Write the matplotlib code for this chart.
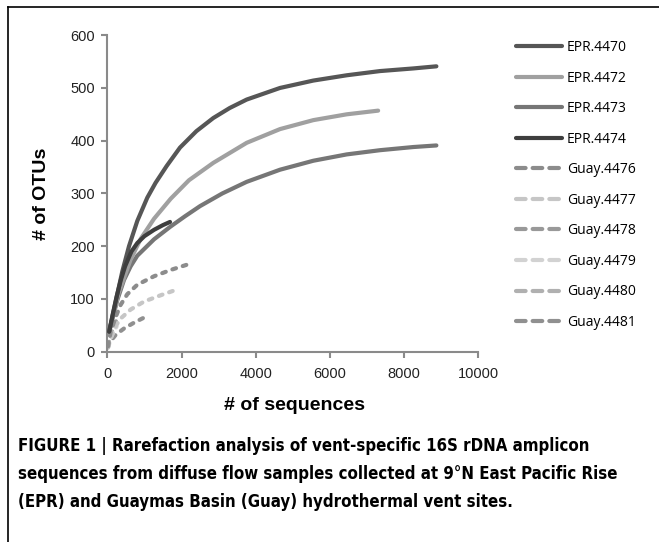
import matplotlib
matplotlib.use("Agg")
from matplotlib import pyplot as plt
from matplotlib.lines import Line2D

# rarefaction curves (sequences, OTUs)
epr4470_x = [50, 226, 404, 585, 809, 1078, 1300, 1600, 1960, 2400, 2857, 3300, 3757, 4655, 5553, 6452, 7350, 8248, 8870]
epr4470_y = [38, 95, 152, 200, 248, 292, 320, 352, 387, 418, 443, 462, 478, 500, 514, 524, 532, 537, 541]
epr4472_x = [50, 300, 630, 900, 1259, 1709, 2200, 2857, 3757, 4655, 5553, 6452, 7300]
epr4472_y = [38, 110, 175, 214, 252, 290, 325, 358, 396, 422, 439, 450, 457]
epr4473_x = [50, 270, 450, 630, 809, 1259, 1700, 2100, 2500, 3100, 3757, 4655, 5553, 6452, 7350, 8248, 8870]
epr4473_y = [38, 98, 136, 162, 182, 213, 237, 257, 276, 300, 322, 345, 362, 374, 382, 388, 391]
epr4474_x = [50, 150, 250, 361, 480, 650, 809, 1000, 1259, 1500, 1690]
epr4474_y = [38, 72, 104, 135, 162, 190, 206, 219, 231, 240, 246]

guay4476_x = [20, 92, 226, 361, 539, 809, 1259, 1709, 2150]
guay4476_y = [10, 38, 66, 89, 109, 127, 143, 155, 165]
guay4477_x = [20, 181, 361, 630, 989, 1439, 1800]
guay4477_y = [10, 44, 63, 80, 95, 107, 116]
guay4478_x = [20, 150, 300]
guay4478_y = [12, 45, 68]
guay4479_x = [20, 120, 250]
guay4479_y = [8, 30, 48]
guay4480_x = [20, 100, 200]
guay4480_y = [10, 32, 50]
guay4481_x = [20, 45, 226, 450, 720, 1000]
guay4481_y = [8, 16, 32, 44, 55, 65]

names = ["EPR.4470", "EPR.4472", "EPR.4473", "EPR.4474",
         "Guay.4476", "Guay.4477", "Guay.4478", "Guay.4479", "Guay.4480", "Guay.4481"]
xs = [epr4470_x, epr4472_x, epr4473_x, epr4474_x,
      guay4476_x, guay4477_x, guay4478_x, guay4479_x, guay4480_x, guay4481_x]
ys = [epr4470_y, epr4472_y, epr4473_y, epr4474_y,
      guay4476_y, guay4477_y, guay4478_y, guay4479_y, guay4480_y, guay4481_y]
colors = ["#565656", "#a0a0a0", "#767676", "#3e3e3e",
          "#8c8c8c", "#c6c6c6", "#999999", "#d2d2d2", "#b0b0b0", "#909090"]

x_ticks = [0, 2000, 4000, 6000, 8000, 10000]
y_ticks = [0, 100, 200, 300, 400, 500, 600]

caption = [
    "FIGURE 1 | Rarefaction analysis of vent-specific 16S rDNA amplicon",
    "sequences from diffuse flow samples collected at 9\u00b0N East Pacific Rise",
    "(EPR) and Guaymas Basin (Guay) hydrothermal vent sites.",
]

W, H = 659, 542
fig = plt.figure(figsize=(W / 100, H / 100), dpi=100)
fig.patch.set_facecolor("white")

ax = fig.add_axes([107.3 / W, 1 - 351.7 / H, 371 / W, 316.5 / H])
axis_gray = "#8a8a8a"

# draw the Guay series first so the EPR curves sit on top
order = [9, 8, 7, 6, 5, 4, 2, 1, 0, 3]
for i in order:
    if names[i].startswith("Guay"):
        ax.plot(xs[i], ys[i], color=colors[i], lw=3.0, dashes=(0.9, 1.7),
                dash_capstyle="round", zorder=2)
    else:
        ax.plot(xs[i], ys[i], color=colors[i], lw=3.0,
                solid_capstyle="round", solid_joinstyle="round", zorder=3)

ax.set_xlim(0, 10000)
ax.set_ylim(0, 600)
ax.set_xticks(x_ticks)
ax.set_yticks(y_ticks)
for s in ["top", "right"]:
    ax.spines[s].set_visible(False)
for s in ["left", "bottom"]:
    ax.spines[s].set_color(axis_gray)
    ax.spines[s].set_linewidth(1.5)
ax.tick_params(axis="both", direction="out", length=4, width=1.5, color=axis_gray,
               labelsize=10.5, labelcolor="#222222")
ax.tick_params(axis="x", pad=7)
ax.tick_params(axis="y", pad=5)
for lab in ax.get_xticklabels() + ax.get_yticklabels():
    lab.set_family(["Liberation Sans", "DejaVu Sans"])
ax.set_facecolor("none")

handles = []
for i in range(len(names)):
    if names[i].startswith("Guay"):
        handles.append(Line2D([], [], color=colors[i], lw=3.0, dashes=(2.3, 1.7),
                              dash_capstyle="round"))
    else:
        handles.append(Line2D([], [], color=colors[i], lw=3.0, solid_capstyle="round"))
ax.legend(handles, names, loc="upper left", bbox_to_anchor=(516 / W, 1 - 40 / H),
          bbox_transform=fig.transFigure, frameon=False, borderpad=0, borderaxespad=0,
          handlelength=3.3, handletextpad=0.35, labelspacing=1.12,
          prop={"family": ["Open Sans", "DejaVu Sans"], "size": 10})

fig.text(42 / W, 1 - 194 / H, "# of OTUs", rotation=90, ha="center", va="center",
         fontsize=14, fontweight="bold", family=["Liberation Sans", "DejaVu Sans"])
fig.text(295 / W, 1 - 405 / H, "# of sequences", ha="center", va="center",
         fontsize=14, fontweight="bold", family=["Liberation Sans", "DejaVu Sans"])

# caption in a condensed bold face, sized so the longest line spans ~603 px
cap_texts = []
for k, line in enumerate(caption):
    t = fig.text(18 / W, 1 - (446 + 28 * k) / H, line, ha="left", va="center",
                 fontsize=13, fontweight="bold", fontstretch="condensed",
                 family=["DejaVu Sans"])
    cap_texts.append(t)
renderer = fig.canvas.get_renderer()
w = cap_texts[1].get_window_extent(renderer).width
size = min(14, 13 * 603 / w)
for t in cap_texts:
    t.set_fontsize(size)

# frame lines of the cropped figure panel
fig.add_artist(Line2D([8 / W, 1], [1 - 7 / H, 1 - 7 / H], transform=fig.transFigure,
                      color="black", lw=1.2))
fig.add_artist(Line2D([8 / W, 8 / W], [0, 1 - 7 / H], transform=fig.transFigure,
                      color="black", lw=1.2))

fig.savefig("out.png", dpi=100)
